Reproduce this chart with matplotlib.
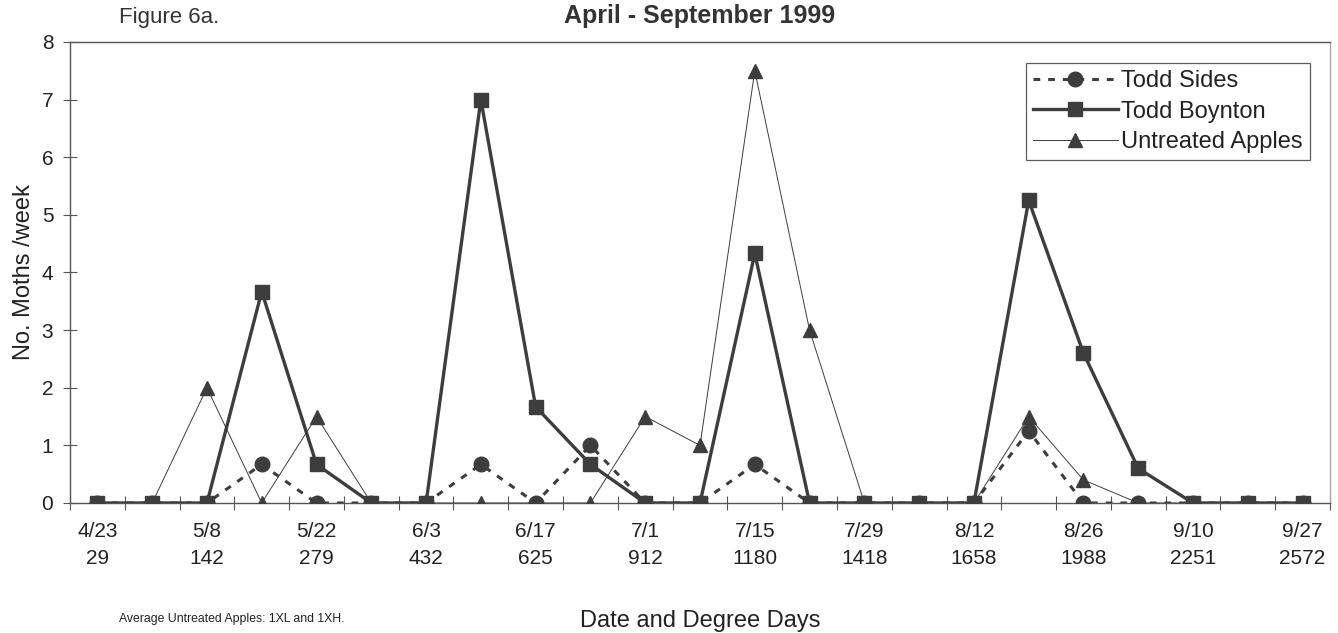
import matplotlib
matplotlib.use("Agg")
import matplotlib.pyplot as plt
import numpy as np

plt.rcParams['font.family'] = ['Liberation Sans', 'DejaVu Sans']

# ---- data ----
dates = ["4/23", "5/8", "5/22", "6/3", "6/17", "7/1", "7/15", "7/29", "8/12", "8/26", "9/10", "9/27"]
degree_days = ["29", "142", "279", "432", "625", "912", "1180", "1418", "1658", "1988", "2251", "2572"]

todd_sides = [0, 0, 0, 0.67, 0, 0, 0, 0.67, 0, 1.0, 0, 0, 0.67, 0, 0, 0, 0, 1.25, 0, 0, 0, 0, 0]
todd_boynton = [0, 0, 0, 3.67, 0.67, 0, 0, 7.0, 1.67, 0.67, 0, 0, 4.33, 0, 0, 0, 0, 5.25, 2.6, 0.6, 0, 0, 0]
untreated = [0, 0, 2.0, 0, 1.5, 0, 0, 0, 0, 0, 1.5, 1.0, 7.5, 3.0, 0, 0, 0, 1.5, 0.4, 0, 0, 0, 0]

n = len(todd_boynton)
x = np.arange(n)
dark = "#3d3d3d"

fig = plt.figure(figsize=(13.38, 6.33), dpi=100)
ax = fig.add_axes([70 / 1338, 1 - 503 / 633, 1260 / 1338, 461 / 633])

ax.plot(x, untreated, color=dark, lw=0.7, marker='^', ms=10.5, mfc=dark, mec=dark,
        label="Untreated Apples", zorder=3)
ax.plot(x, todd_sides, color=dark, lw=2.2, ls=(0, (2.2, 2.6)), marker='o', ms=10.5,
        mfc=dark, mec=dark, label="Todd Sides", zorder=4)
ax.plot(x, todd_boynton, color=dark, lw=2.4, marker='s', ms=10.5, mfc=dark, mec=dark,
        label="Todd Boynton", zorder=5)

ax.set_xlim(-0.5, n - 0.5)
ax.set_ylim(0, 8)
ax.set_yticks(range(0, 9))
ax.tick_params(axis='y', direction='inout', length=10, width=0.8, color='#555555',
               labelsize=15, pad=7, labelcolor='#222222')

label_pos = x[::2]
ax.set_xticks(label_pos)
ax.set_xticklabels([f"{d}\n{g}" for d, g in zip(dates, degree_days)], fontsize=15,
                   color='#222222', linespacing=1.5)
ax.set_xticks(np.arange(-0.5, n, 1.0), minor=True)
ax.tick_params(axis='x', which='major', length=0, pad=14)
ax.tick_params(axis='x', which='minor', direction='inout', length=10, width=0.8, color='#555555')

for s in ['left', 'bottom', 'top']:
    ax.spines[s].set_color('#555555')
    ax.spines[s].set_linewidth(1.0)
ax.spines['right'].set_color('#aaaaaa')
ax.spines['right'].set_linewidth(1.0)

ax.set_ylabel("No. Moths /week", fontsize=17, color='#222222', labelpad=5)

handles, labels = ax.get_legend_handles_labels()
order = [1, 2, 0]
leg = ax.legend([handles[i] for i in order], [labels[i] for i in order],
                loc='upper right', bbox_to_anchor=(0.984, 0.954), fontsize=17,
                frameon=True, fancybox=False, handlelength=3.6, handletextpad=0.15,
                borderpad=0.3, labelspacing=0.35, borderaxespad=0)
leg.get_frame().set_edgecolor('#333333')
leg.get_frame().set_linewidth(0.9)
for t in leg.get_texts():
    t.set_color('#222222')

fig.text(0.523, 0.975, "April - September 1999", ha='center', va='center',
         fontsize=18, fontweight='bold', color='#333333')
fig.text(0.089, 0.973, "Figure 6a.", ha='left', va='center', fontsize=16, color='#333333')
fig.text(0.523, 0.002, "Date and Degree Days", ha='center', va='bottom', fontsize=17,
         color='#222222')
fig.text(0.089, 0.012, "Average Untreated Apples: 1XL and 1XH.", ha='left', va='bottom',
         fontsize=8.8, color='#222222')

fig.savefig("out.png", dpi=100)
